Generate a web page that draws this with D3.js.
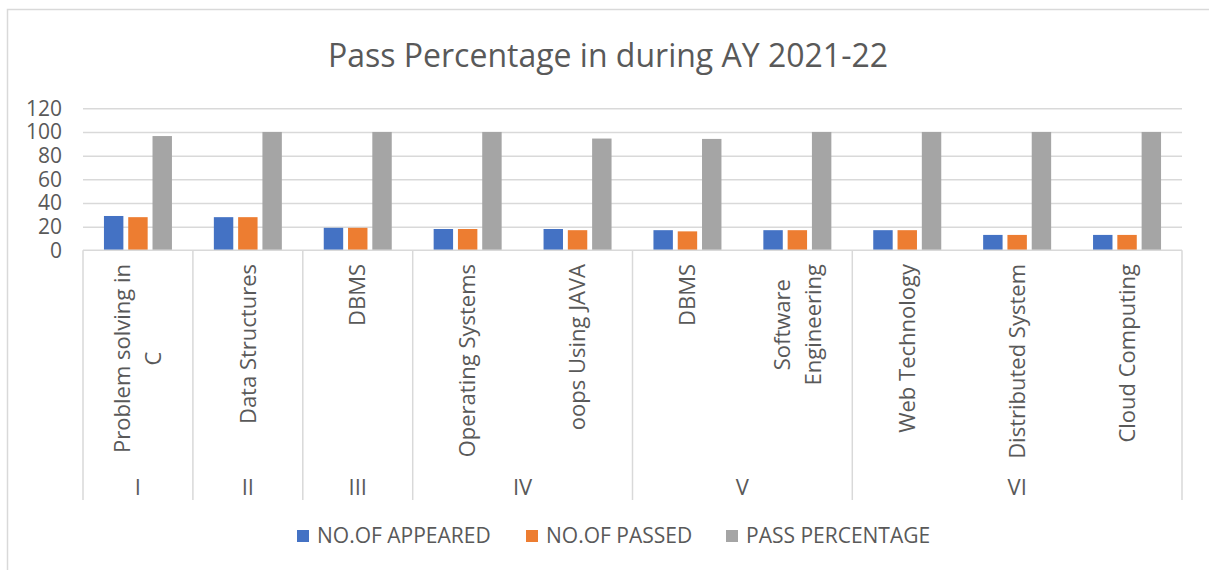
<!DOCTYPE html>
<html>
<head>
<meta charset="utf-8">
<script src="https://cdn.jsdelivr.net/npm/d3@7"></script>
<style>
  body { margin: 0; background: #fff; }
  svg { display: block; font-family: "Open Sans", sans-serif; }
</style>
</head>
<body>
<svg id="chart" width="1209" height="570"></svg>
<script>
// data
let semesters = ["I", "II", "III", "IV", "IV", "V", "V", "VI", "VI", "VI"];
let subjects = ["Problem solving in\nC", "Data Structures", "DBMS", "Operating Systems", "oops Using JAVA",
    "DBMS", "Software\nEngineering", "Web Technology", "Distributed System", "Cloud Computing"];
let appeared = [29, 28, 19, 18, 18, 17, 17, 17, 13, 13];
let passed = [28, 28, 19, 18, 17, 16, 17, 17, 13, 13];
let passPct = [96.55, 100, 100, 100, 94.44, 94.12, 100, 100, 100, 100];
let seriesNames = ["NO.OF APPEARED", "NO.OF PASSED", "PASS PERCENTAGE"];
let yTicks = [0, 20, 40, 60, 80, 100, 120];

let color = d3.scaleOrdinal()
    .domain(seriesNames)
    .range(["#4472C4", "#ED7D31", "#A5A5A5"]);

let textColor = "#595959";
let lineColor = "#d9d9d9";

let plot = {left: 83, right: 1182, top: 108.3, bottom: 250.3};

let svg = d3.select("#chart");

// outer chart border (runs off the right and bottom edge)
svg.append("rect")
    .attr("x", 7.5)
    .attr("y", 9.5)
    .attr("width", 1300)
    .attr("height", 700)
    .attr("fill", "none")
    .attr("stroke", lineColor)
    .attr("stroke-width", 1.5);

svg.append("text")
    .attr("x", 608)
    .attr("y", 67)
    .attr("text-anchor", "middle")
    .attr("fill", textColor)
    .style("font-size", "32px")
    .text("Pass Percentage in during AY 2021-22");

let x0 = d3.scaleBand()
    .domain(d3.range(subjects.length))
    .range([plot.left, plot.right])
    .padding(0);

let groupWidth = 68;
let x1 = d3.scaleBand()
    .domain(seriesNames)
    .range([(x0.bandwidth() - groupWidth) / 2, (x0.bandwidth() + groupWidth) / 2])
    .paddingInner(0.2)
    .paddingOuter(0);

let y = d3.scaleLinear()
    .domain([0, 120])
    .range([plot.bottom, plot.top]);

// gridlines
svg.append("g")
    .attr("transform", "translate(" + plot.left + ",0)")
    .call(d3.axisLeft(y).tickValues(yTicks.slice(1)).tickSize(-(plot.right - plot.left)).tickFormat(""))
    .call(g => g.select(".domain").remove())
    .call(g => g.selectAll("line").attr("stroke", lineColor).attr("stroke-width", 1.5));

// y tick labels
svg.append("g")
    .attr("transform", "translate(62,0)")
    .call(d3.axisLeft(y).tickValues(yTicks).tickSize(0).tickPadding(0))
    .call(g => g.select(".domain").remove())
    .call(g => g.selectAll("text")
        .attr("fill", textColor)
        .style("font-size", "21px")
        .style("font-family", "'Open Sans', sans-serif"));

// bars
let rows = subjects.map(function (s, i) {
    return {i: i, values: [appeared[i], passed[i], passPct[i]]};
});

let groups = svg.append("g").selectAll("g")
    .data(rows)
    .enter().append("g")
    .attr("transform", d => "translate(" + x0(d.i) + ",0)");

groups.selectAll("rect")
    .data(d => d.values.map((v, k) => ({key: seriesNames[k], value: v})))
    .enter().append("rect")
    .attr("x", d => x1(d.key))
    .attr("y", d => y(d.value))
    .attr("width", x1.bandwidth())
    .attr("height", d => y(0) - y(d.value))
    .attr("fill", d => color(d.key));

// category axis line
svg.append("line")
    .attr("x1", plot.left).attr("x2", plot.right)
    .attr("y1", plot.bottom).attr("y2", plot.bottom)
    .attr("stroke", lineColor).attr("stroke-width", 1.5);

// semester groups
let semGroups = [];
semesters.forEach(function (s, i) {
    let last = semGroups[semGroups.length - 1];
    if (last && last.name === s) {
        last.end = i;
    } else {
        semGroups.push({name: s, start: i, end: i});
    }
});

let bounds = semGroups.map(g => x0(g.start)).concat([plot.right]);
svg.append("g").selectAll("line")
    .data(bounds)
    .enter().append("line")
    .attr("x1", d => d).attr("x2", d => d)
    .attr("y1", plot.bottom).attr("y2", 500)
    .attr("stroke", lineColor).attr("stroke-width", 1.5);

svg.append("g").selectAll("text")
    .data(semGroups)
    .enter().append("text")
    .attr("x", d => (x0(d.start) + x0(d.end) + x0.bandwidth()) / 2)
    .attr("y", 487)
    .attr("dy", "0.35em")
    .attr("text-anchor", "middle")
    .attr("fill", textColor)
    .style("font-size", "22px")
    .text(d => d.name);

// rotated subject labels: block ends at the axis, lines centred on each other
let subjLabels = svg.append("g").selectAll("text")
    .data(subjects)
    .enter().append("text")
    .attr("transform", (d, i) => "translate(" + (x0(i) + x0.bandwidth() / 2) + ",264) rotate(-90)")
    .attr("text-anchor", "middle")
    .attr("fill", textColor)
    .style("font-size", "22px");

subjLabels.each(function (d) {
    let lines = d.split("\n");
    let lh = 31;
    let t = d3.select(this);
    let spans = lines.map(function (line, k) {
        return t.append("tspan")
            .attr("y", (k - (lines.length - 1) / 2) * lh)
            .attr("dy", "0.35em")
            .text(line);
    });
    let maxLen = d3.max(spans, s => s.node().getComputedTextLength());
    spans.forEach(s => s.attr("x", -maxLen / 2));
});

// legend
let legendX = [297, 526, 726];
let legend = svg.append("g").selectAll("g")
    .data(seriesNames)
    .enter().append("g")
    .attr("transform", (d, i) => "translate(" + legendX[i] + ",536)");

legend.append("rect")
    .attr("x", 0).attr("y", -6)
    .attr("width", 12).attr("height", 12)
    .attr("fill", d => color(d));

legend.append("text")
    .attr("x", 20)
    .attr("dy", "0.35em")
    .attr("fill", textColor)
    .style("font-size", "21px")
    .text(d => d);
</script>
</body>
</html>
